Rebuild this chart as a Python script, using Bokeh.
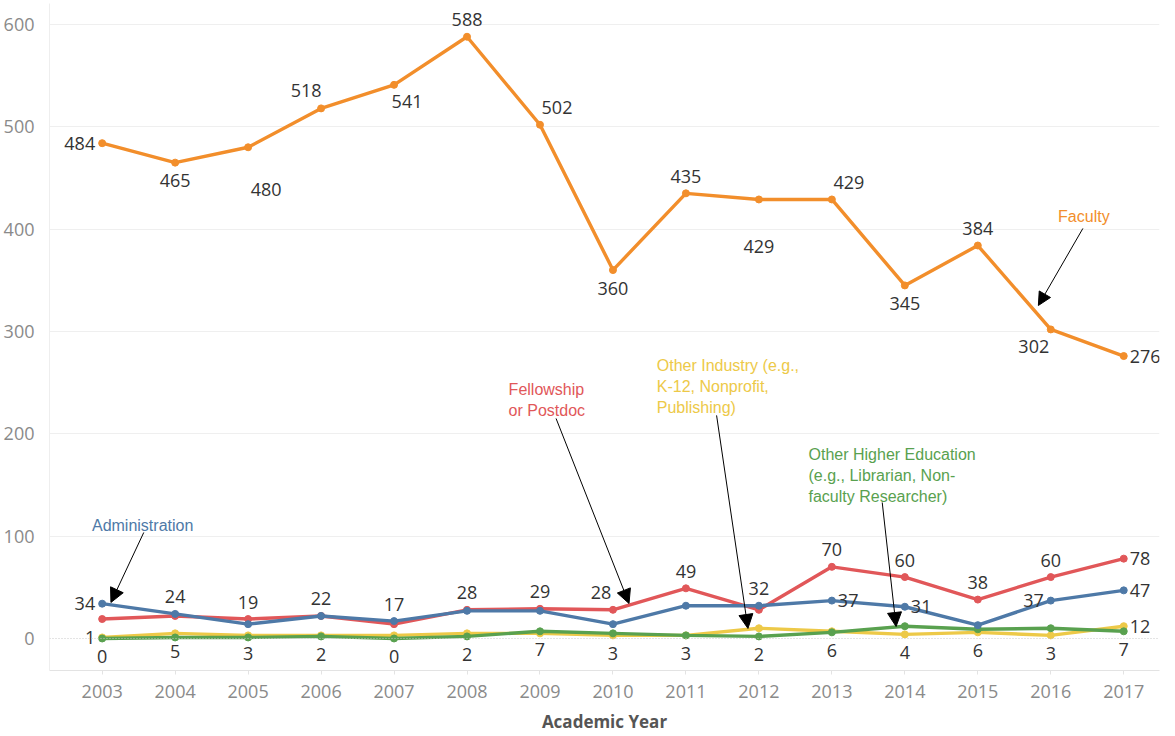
from bokeh.plotting import figure
from bokeh.models import (ColumnDataSource, Range1d, FixedTicker, Span, Arrow,
                          NormalHead, Label)
from bokeh.embed import file_html
from bokeh.resources import INLINE

# ---------------- data ----------------
years = [2003, 2004, 2005, 2006, 2007, 2008, 2009, 2010, 2011, 2012, 2013, 2014, 2015, 2016, 2017]
faculty = [484, 465, 480, 518, 541, 588, 502, 360, 435, 429, 429, 345, 384, 302, 276]
fellowship = [19, 22, 19, 22, 14, 28, 29, 28, 49, 28, 70, 60, 38, 60, 78]
administration = [34, 24, 14, 22, 17, 27, 27, 14, 32, 32, 37, 31, 13, 37, 47]
other_industry = [1, 5, 3, 3, 3, 5, 5, 3, 3, 10, 7, 4, 6, 3, 12]
other_higher = [0, 1, 1, 2, 0, 2, 7, 5, 3, 2, 6, 12, 9, 10, 7]
y_ticks = [0, 100, 200, 300, 400, 500, 600]

# value labels shown (None = not shown)
faculty_labels = ["484", "465", "480", "518", "541", "588", "502", "360", "435", "429", "429", "345", "384", "302", "276"]
fellowship_labels = [None, None, "19", "22", None, "28", "29", "28", "49", None, "70", "60", "38", "60", "78"]
administration_labels = ["34", "24", None, None, "17", None, None, None, None, "32", "37", "31", None, "37", "47"]
industry_labels = ["1", "5", "3", None, None, None, None, "3", None, None, None, "4", "6", "3", "12"]
higher_labels = ["0", None, None, "2", "0", "2", "7", None, "3", "2", "6", None, None, None, "7"]

# ---------------- styles / placement ----------------
faculty_place = ["L", "B", "B2", "AL", "BR", "A", "AR", "B", "A", "B3", "AR", "B", "A", "BL", "R"]
fellowship_place = ["A"] * 7 + ["AL2"] + ["A"] * 6 + ["R"]
administration_place = ["L", "A", "A", "A", "A", "A", "A", "A", "A", "A", "R", "R", "A", "L", "R"]
industry_place = ["L"] + ["B"] * 13 + ["R"]
higher_place = ["B"] * 15

PLACE = {
    "A": (0, -17, "center"), "B": (0, 18, "center"), "B2": (18, 42, "center"),
    "B3": (0, 47, "center"), "L": (-7, 0, "right"), "R": (6, 0, "left"),
    "AL": (-15, -18, "center"), "AR": (17, -17, "center"), "AL2": (-12, -17, "center"),
    "BR": (13, 17, "center"), "BL": (-17, 17, "center"),
}

ORANGE = "#f28e2b"
RED = "#e15759"
BLUE = "#4e79a7"
YELLOW = "#edc948"
GREEN = "#59a14f"
FONT = "Open Sans"

x0 = 2002.278
x1 = 2017.49
p = figure(width=1165, height=736, x_range=Range1d(x0, x1), y_range=Range1d(-31.3, 620.5),
           output_backend="svg", toolbar_location=None,
           min_border_left=42, min_border_right=6, min_border_top=3, min_border_bottom=66)
p.outline_line_color = None
p.background_fill_color = "white"

# axes
p.xaxis.ticker = FixedTicker(ticks=years)
p.xaxis.major_label_text_font = FONT
p.xaxis.major_label_text_font_size = "18px"
p.xaxis.major_label_text_color = "#8a8a8a"
p.xaxis.axis_line_color = "#e3e3e3"
p.xaxis.major_tick_line_color = "#e3e3e3"
p.xaxis.major_tick_out = 4
p.xaxis.major_tick_in = 0
p.xaxis.minor_tick_line_color = None
p.xaxis.major_label_standoff = 10
p.xaxis.axis_label = "Academic Year"
p.xaxis.axis_label_text_font = FONT
p.xaxis.axis_label_text_font_size = "17px"
p.xaxis.axis_label_text_font_style = "bold"
p.xaxis.axis_label_text_color = "#555555"
p.xaxis.axis_label_standoff = 9

p.yaxis.ticker = FixedTicker(ticks=y_ticks)
p.yaxis.major_label_text_font = FONT
p.yaxis.major_label_text_font_size = "18px"
p.yaxis.major_label_text_color = "#8a8a8a"
p.yaxis.axis_line_color = "#eeeeee"
p.yaxis.major_tick_line_color = None
p.yaxis.minor_tick_line_color = None
p.yaxis.major_label_standoff = 9

p.xgrid.grid_line_color = None
p.ygrid.ticker = FixedTicker(ticks=[t for t in y_ticks if t != 0])
p.ygrid.grid_line_color = "#efefef"
p.add_layout(Span(location=0, dimension="width", line_color="#c8c8c8", line_dash="1 2", line_width=1))

series = [
    (faculty, ORANGE, faculty_labels, faculty_place),
    (other_industry, YELLOW, industry_labels, industry_place),
    (other_higher, GREEN, higher_labels, higher_place),
    (fellowship, RED, fellowship_labels, fellowship_place),
    (administration, BLUE, administration_labels, administration_place),
]

for vals, color, _, _ in series:
    p.line(years, vals, line_color=color, line_width=3.4)
    p.scatter(years, vals, size=7, fill_color=color, line_color=color)

for vals, color, labels, places in series:
    xs, ys, ts, dx, dy, al = [], [], [], [], [], []
    for yr, v, t, pl in zip(years, vals, labels, places):
        if t is None:
            continue
        ox, oy, a = PLACE[pl]
        xs.append(yr); ys.append(v); ts.append(t)
        dx.append(ox); dy.append(oy); al.append(a)
    src = ColumnDataSource(dict(x=xs, y=ys, t=ts, dx=dx, dy=dy, al=al))
    p.text("x", "y", text="t", source=src, x_offset="dx", y_offset="dy", text_align="al",
           text_baseline="middle", text_font_size="18px", text_color="#333333",
           text_font={"value": FONT})

# annotations
def note(lines, x, y, color, step=20.5):
    for i, ln in enumerate(lines):
        p.add_layout(Label(x=x, y=y - i * step, text=ln, text_font="Liberation Sans",
                           text_font_size="16px", text_color=color, text_baseline="middle"))

def arrow(xs, ys, xe, ye, size=14):
    p.add_layout(Arrow(end=NormalHead(size=size, fill_color="black", line_color="black"),
                       x_start=xs, y_start=ys, x_end=xe, y_end=ye,
                       line_color="black", line_width=1))

note(["Faculty"], 2016.10, 412.4, ORANGE)
arrow(2016.44, 400.7, 2015.83, 325.4, 13)

note(["Fellowship", "or Postdoc"], 2008.57, 243.3, RED)
arrow(2009.22, 215.0, 2010.22, 34.2)

note(["Other Industry (e.g.,", "K-12, Nonprofit,", "Publishing)"], 2010.60, 266.8, YELLOW)
arrow(2011.42, 218.0, 2011.85, 9.8)

note(["Other Higher Education", "(e.g., Librarian, Non-", "faculty Researcher)"], 2012.68, 180.0, GREEN)
arrow(2013.69, 132.9, 2013.88, 11.7)

note(["Administration"], 2002.86, 110.4, BLUE)
arrow(2003.57, 103.6, 2003.12, 35.2)

open("out.html", "w").write(file_html(p, INLINE))
